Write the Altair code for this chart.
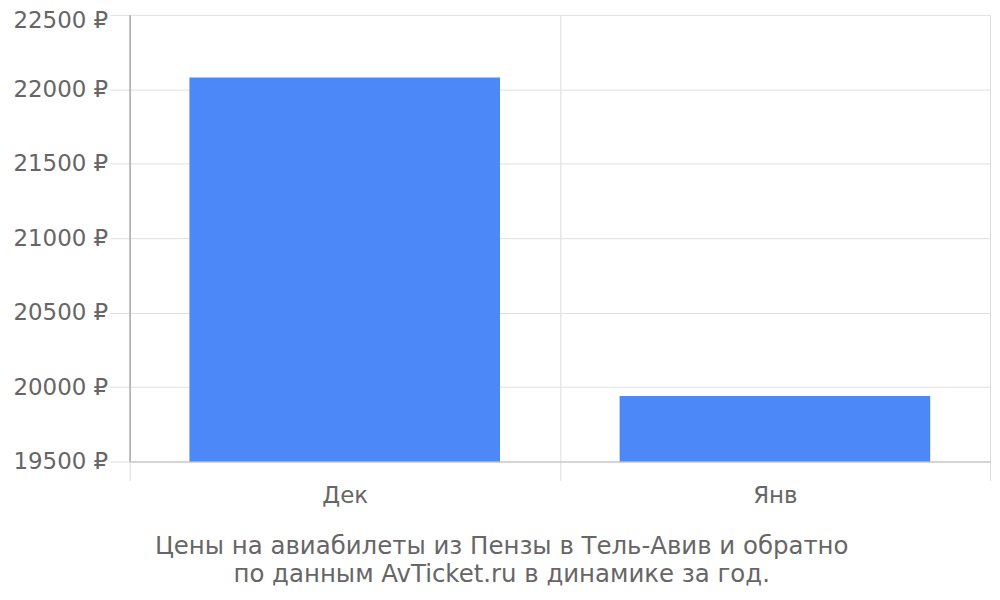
import altair as alt
import pandas as pd

months = ["Дек", "Янв"]
prices = [22080, 19940]
y_ticks = [19500, 20000, 20500, 21000, 21500, 22000, 22500]
title_lines = ["Цены на авиабилеты из Пензы в Тель-Авив и обратно",
               "по данным AvTicket.ru в динамике за год."]

df = pd.DataFrame({"month": months, "price": prices})

FONT = "DejaVu Sans"

chart = alt.Chart(df).mark_bar(color="#4d88f9", clip=True,
                               width=alt.RelativeBandSize(0.722)).encode(
    x=alt.X("month:N", sort=months, title=None,
            scale=alt.Scale(paddingInner=0, paddingOuter=0),
            axis=alt.Axis(tickBand="extent", labelAngle=0, labelFontSize=23,
                          labelColor="#666666", labelFont=FONT, labelPadding=4,
                          tickSize=19, tickColor="#dddddd", gridColor="#dddddd",
                          grid=True, domainColor="#cccccc", domainWidth=1.5)),
    y=alt.Y("price:Q", title=None,
            scale=alt.Scale(domain=[19500, 22500], nice=False, zero=False),
            axis=alt.Axis(values=y_ticks, labelExpr="datum.value + ' ₽'",
                          labelFontSize=23, labelColor="#666666", labelFont=FONT,
                          labelPadding=2, tickSize=20, tickColor="#e0e0e0",
                          gridColor="#e0e0e0", domainColor="#aaaaaa",
                          domainWidth=1.5,
                          labelOffset={"condition": {"test": "datum.value == 22500", "value": 6},
                                       "value": 0})),
).properties(
    width=863, height=448,
    title=alt.TitleParams(text=title_lines, orient="bottom", anchor="middle",
                          frame="bounds", fontSize=24.5, font=FONT,
                          fontWeight="normal", color="#666666", offset=28,
                          lineHeight=28),
    autosize=alt.AutoSizeParams(type="none"),
    padding={"left": 122, "top": 6, "right": 2, "bottom": 125},
).configure_view(stroke=None)

chart.save("out.html", embed_options={"renderer": "svg", "actions": False})
